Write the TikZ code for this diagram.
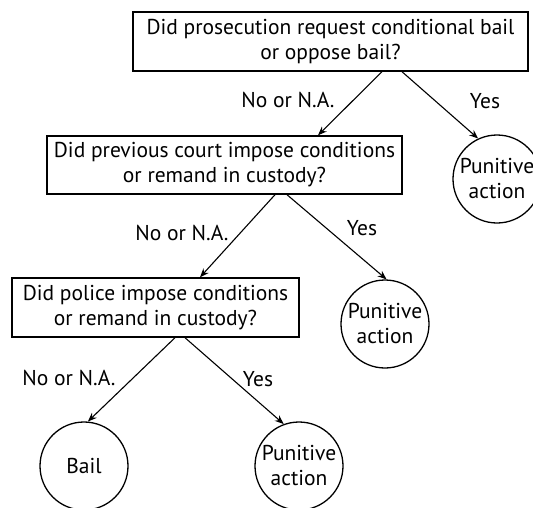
\documentclass[tikz,border=0pt]{standalone}
\usepackage{fontspec}
\setmainfont{PT Sans}
\usetikzlibrary{arrows.meta}
\begin{document}
\begin{tikzpicture}[x=1pt,y=-1pt,
  qbox/.style={draw,line width=1.4pt,inner sep=0pt,align=center,font=\fontsize{21.5}{25}\selectfont},
  leaf/.style={draw,circle,line width=1.3pt,inner sep=0pt,minimum size=88pt,align=center,font=\fontsize{21.5}{25}\selectfont},
  lab/.style={font=\fontsize{21.5}{24}\selectfont,inner sep=0pt},
  arr/.style={line width=1.1pt,-{Stealth[length=9pt,width=7pt,inset=3pt]}}]
\useasboundingbox (0,0) rectangle (533,507);
\node[qbox,minimum width=395pt,minimum height=59pt] (q1) at (330.5,41.5) {Did prosecution request conditional bail\\or oppose bail?};
\node[qbox,minimum width=355pt,minimum height=58pt] (q2) at (224.5,165) {Did previous court impose conditions\\or remand in custody?};
\node[qbox,minimum width=287pt,minimum height=59pt] (q3) at (155.5,307.5) {Did police impose conditions\\or remand in custody?};
\node[leaf] (p1) at (497,179) {Punitive\\action};
\node[leaf] (p2) at (385,324) {Punitive\\action};
\node[leaf] (bail) at (84,466) {Bail};
\node[leaf] (p3) at (299,466) {Punitive\\action};
\draw[arr] ([xshift=51.5pt]q1.south) -- ([xshift=93.5pt]q2.north);
\draw[arr] ([xshift=71.5pt]q1.south) -- (p1.115);
\draw[arr] ([xshift=50.5pt]q2.south) -- ([xshift=44.5pt]q3.north);
\draw[arr] ([xshift=62.5pt]q2.south) -- (p2.88);
\draw[arr] ([xshift=19.5pt]q3.south) -- (bail.85);
\draw[arr] ([xshift=29.5pt]q3.south) -- (p3.110);
\node[lab] (l1) at (288,100) {No or N.A.};
\node[lab] (y1) at (485,101) {Yes};
\node[lab] (l2) at (182,233) {No or N.A.};
\node[lab] (y2) at (362,228) {Yes};
\node[lab] (l3) at (69,378) {No or N.A.};
\node[lab] (y3) at (258,379) {Yes};
\end{tikzpicture}
\end{document}
